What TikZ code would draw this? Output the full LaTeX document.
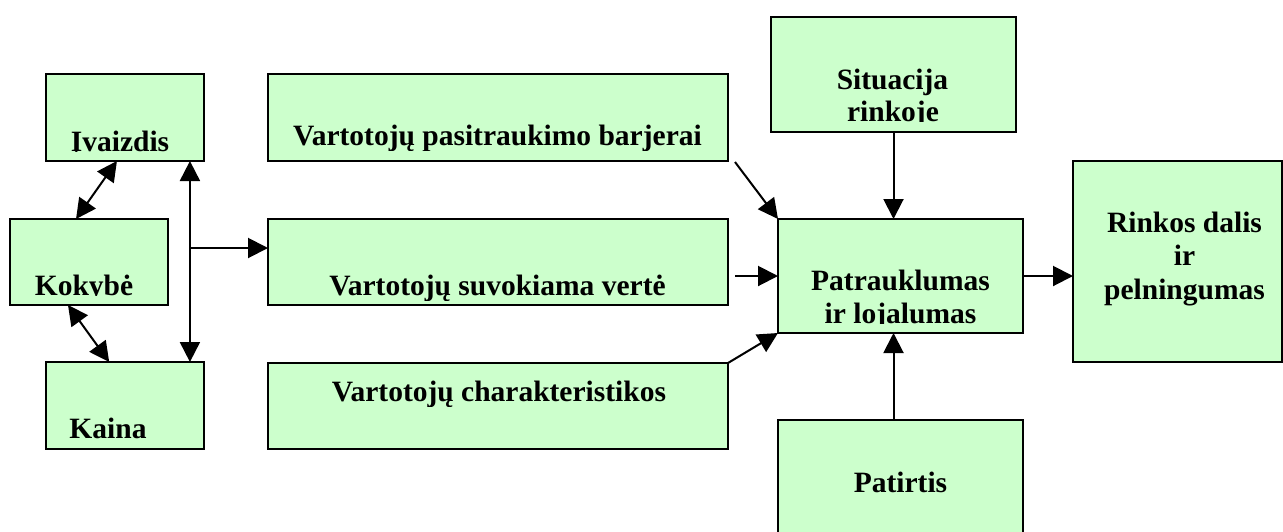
\documentclass[tikz,border=0pt]{standalone}
\usepackage{fontspec}
\setmainfont{Liberation Serif}
\usetikzlibrary{arrows.meta,calc}
\definecolor{boxgreen}{HTML}{CCFFCC}
\tikzset{
  box/.style={draw=black, line width=2pt, fill=boxgreen, inner sep=0pt, outer sep=0pt},
  lbl/.style={font=\fontsize{29.5}{33}\selectfont\bfseries, inner sep=0pt, anchor=base},
  tip/.tip={Triangle[length=20pt,width=20pt]},
  link/.style={line width=2pt, -tip},
  link2/.style={line width=2pt, tip-tip},
}
\begin{document}
\begin{tikzpicture}[x=1pt,y=-1pt]
\clip (0,0) rectangle (1283,531);
\fill[white] (0,0) rectangle (1283,531);

% boxes
\node[box, minimum width=158pt, minimum height=87pt]  (iv) at (125,117.5) {};
\node[box, minimum width=158pt, minimum height=86pt]  (ko) at (89,262) {};
\node[box, minimum width=158pt, minimum height=87pt]  (ka) at (125,405.5) {};
\node[box, minimum width=460pt, minimum height=87pt]  (ba) at (498,117.5) {};
\node[box, minimum width=460pt, minimum height=86pt]  (ve) at (498,262) {};
\node[box, minimum width=460pt, minimum height=86pt]  (ch) at (498,406) {};
\node[box, minimum width=245pt, minimum height=115pt] (si) at (893.5,74.5) {};
\node[box, minimum width=245pt, minimum height=114pt] (pa) at (900.5,276) {};
\node[box, minimum width=209pt, minimum height=201pt] (ri) at (1177.5,261.5) {};
\node[box, minimum width=245pt, minimum height=125pt] (pt) at (900.5,482.5) {};

% texts, cut off at the bottom of each text frame
\begin{scope}
  \clip (iv.north west) rectangle (204,151.5);
  \node[lbl] (ivt) at (120,151) {Įvaizdis};
\end{scope}
\begin{scope}
  \clip (ko.north west) rectangle (168,295.5);
  \node[lbl] (kot) at (84,295) {Kokybė};
\end{scope}
\node[lbl] (kat) at (108,438) {Kaina};
\begin{scope}
  \clip (ba.north west) rectangle (728,150);
  \node[lbl] (bat) at (497.5,145) {Vartotojų pasitraukimo barjerai};
\end{scope}
\begin{scope}
  \clip (ve.north west) rectangle (728,300);
  \node[lbl] (vet) at (497.5,295) {Vartotojų suvokiama vertė};
\end{scope}
\begin{scope}
  \clip (ch.north west) rectangle (728,406);
  \node[lbl] (cht) at (499,401) {Vartotojų charakteristikos};
\end{scope}
\node[lbl] (sit1) at (892.5,89) {Situacija};
\begin{scope}
  \clip (si.north west) rectangle (1016,121.5);
  \node[lbl] (sit2) at (893,121) {rinkoje};
\end{scope}
\node[lbl] (pat1) at (900.5,290) {Patrauklumas};
\begin{scope}
  \clip (pa.north west) rectangle (1023,323.5);
  \node[lbl] (pat2) at (900.5,323) {ir lojalumas};
\end{scope}
\node[lbl] (rit1) at (1184.5,232) {Rinkos dalis};
\node[lbl] (rit2) at (1184.5,265.5) {ir};
\node[lbl] (rit3) at (1184.5,299) {pelningumas};
\node[lbl] (ptt) at (900.5,492) {Patirtis};

% connectors
\draw[link2] ($(iv.south west)!0.449!(iv.south east)$) -- ($(ko.north west)!0.418!(ko.north east)$);
\draw[link2] ($(ko.south west)!0.367!(ko.south east)$) -- ($(ka.north west)!0.4!(ka.north east)$);
\draw[link2] ($(iv.south west)!0.911!(iv.south east)$) -- ($(ka.north west)!0.911!(ka.north east)$);
\coordinate (br) at (190,248);
\draw[link] (br) -- (br -| ve.west);
\draw[link] ($(ba.south east)+(7,1)$) -- (pa.north west);
\draw[link] ($(pa.west -| ve.east)+(7,0)$) -- (pa.west);
\draw[link] (ch.north east) -- (pa.south west);
\draw[link] (si.south) -- (si.south |- pa.north);
\draw[link] (si.south |- pt.north) -- (si.south |- pa.south);
\draw[link] (pa.east) -- (pa.east -| ri.west);
\end{tikzpicture}
\end{document}
